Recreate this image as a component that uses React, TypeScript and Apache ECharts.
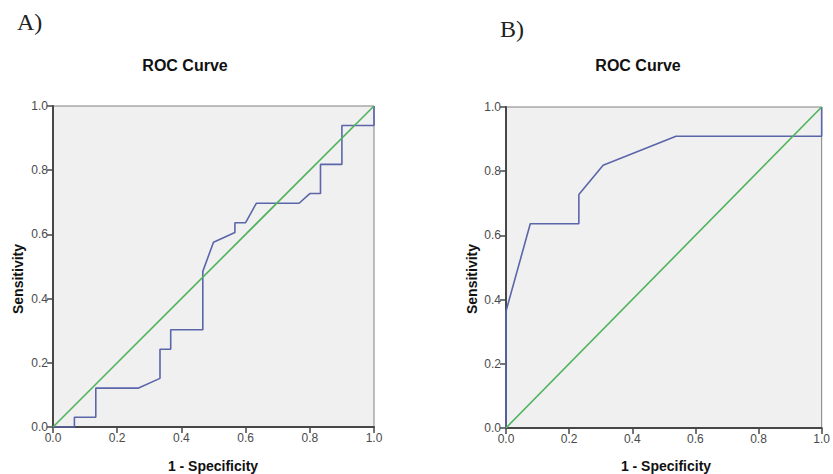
import React, { useEffect, useRef } from "react";
import * as echarts from "echarts";

// Panel A ROC curve (1 - specificity, sensitivity)
const rocAX = [0, 0.0667, 0.0667, 0.1333, 0.1333, 0.2667, 0.3333, 0.3333, 0.3667, 0.3667, 0.4667, 0.4667, 0.5, 0.5667, 0.5667, 0.6, 0.6333, 0.7667, 0.8, 0.8333, 0.8333, 0.9, 0.9, 1, 1];
const rocAY = [0, 0, 0.0303, 0.0303, 0.1212, 0.1212, 0.1515, 0.2424, 0.2424, 0.303, 0.303, 0.4848, 0.5758, 0.6061, 0.6364, 0.6364, 0.697, 0.697, 0.7273, 0.7273, 0.8182, 0.8182, 0.9394, 0.9394, 1];
// Panel B ROC curve
const rocBX = [0, 0, 0.0769, 0.2308, 0.2308, 0.3077, 0.5385, 1, 1];
const rocBY = [0, 0.3636, 0.6364, 0.6364, 0.7273, 0.8182, 0.9091, 0.9091, 1];
// Reference line
const refX = [0, 1];
const refY = [0, 1];

const tickValues = [0, 0.2, 0.4, 0.6, 0.8, 1.0];
const panelLetters = ["A)", "B)"];
const chartTitle = "ROC Curve";
const xName = "1 - Specificity";
const yName = "Sensitivity";

const zip = (xs: number[], ys: number[]) => xs.map((x, i) => [x, ys[i]]);

export default function App() {
  const ref = useRef<HTMLDivElement>(null);
  useEffect(() => {
    if (!ref.current) return;
    const chart = echarts.init(ref.current, null, { renderer: "svg" });
    const font = "'Liberation Sans', Arial, sans-serif";
    const grids = [
      { left: 53, top: 106, width: 321, height: 321 },
      { left: 506, top: 107, width: 321, height: 321 },
    ];
    const axisCommon = {
      type: "value" as const,
      min: 0,
      max: 1,
      interval: 0.2,
      splitLine: { show: false },
      axisLine: { show: true, lineStyle: { color: "#474747", width: 2 } },
      axisTick: { show: true, inside: false, length: 6, lineStyle: { color: "#474747", width: 1.5 } },
      axisLabel: {
        fontSize: 12,
        color: "#4a4a4a",
        fontFamily: font,
        margin: 5,
        formatter: (v: number) => v.toFixed(1),
        customValues: tickValues,
      },
    };
    const blue = "#5b66aa";
    const green = "#4fb35c";
    chart.setOption({
      animation: false,
      backgroundColor: "#ffffff",
      grid: grids.map((g) => ({
        ...g,
        show: true,
        backgroundColor: "#f0f0f0",
        borderColor: "#808080",
        borderWidth: 1,
      })),
      xAxis: [0, 1].map((i) => ({ ...axisCommon, gridIndex: i, position: "bottom" })),
      yAxis: [0, 1].map((i) => ({ ...axisCommon, gridIndex: i, position: "left" })),
      series: [
        { type: "line", xAxisIndex: 0, yAxisIndex: 0, data: zip(rocAX, rocAY), showSymbol: false, lineStyle: { color: blue, width: 1.6 }, z: 3 },
        { type: "line", xAxisIndex: 0, yAxisIndex: 0, data: zip(refX, refY), showSymbol: false, lineStyle: { color: green, width: 1.6 }, z: 4 },
        { type: "line", xAxisIndex: 1, yAxisIndex: 1, data: zip(rocBX, rocBY), showSymbol: false, lineStyle: { color: blue, width: 1.6 }, z: 3 },
        { type: "line", xAxisIndex: 1, yAxisIndex: 1, data: zip(refX, refY), showSymbol: false, lineStyle: { color: green, width: 1.6 }, z: 4 },
      ],
      graphic: [
        { type: "text", x: 17, y: 34, style: { text: panelLetters[0], font: "24px 'Liberation Serif', 'Times New Roman', serif", fill: "#222", textVerticalAlign: "bottom" } },
        { type: "text", x: 500, y: 41, style: { text: panelLetters[1], font: "24px 'Liberation Serif', 'Times New Roman', serif", fill: "#222", textVerticalAlign: "bottom" } },
        { type: "text", x: 185, y: 65, style: { text: chartTitle, font: `bold 16px ${font}`, fill: "#111", textAlign: "center", textVerticalAlign: "middle" } },
        { type: "text", x: 638, y: 65, style: { text: chartTitle, font: `bold 16px ${font}`, fill: "#111", textAlign: "center", textVerticalAlign: "middle" } },
        { type: "text", x: 213, y: 466, style: { text: xName, font: `bold 14px ${font}`, fill: "#111", textAlign: "center", textVerticalAlign: "middle" } },
        { type: "text", x: 666, y: 466, style: { text: xName, font: `bold 14px ${font}`, fill: "#111", textAlign: "center", textVerticalAlign: "middle" } },
        { type: "text", x: 18, y: 279, rotation: Math.PI / 2, style: { text: yName, font: `bold 14px ${font}`, fill: "#111", textAlign: "center", textVerticalAlign: "middle" } },
        { type: "text", x: 472, y: 279, rotation: Math.PI / 2, style: { text: yName, font: `bold 14px ${font}`, fill: "#111", textAlign: "center", textVerticalAlign: "middle" } },
      ],
    });
    return () => chart.dispose();
  }, []);
  return <div ref={ref} style={{ position: "fixed", left: 0, top: 0, width: 833, height: 474 }} />;
}
